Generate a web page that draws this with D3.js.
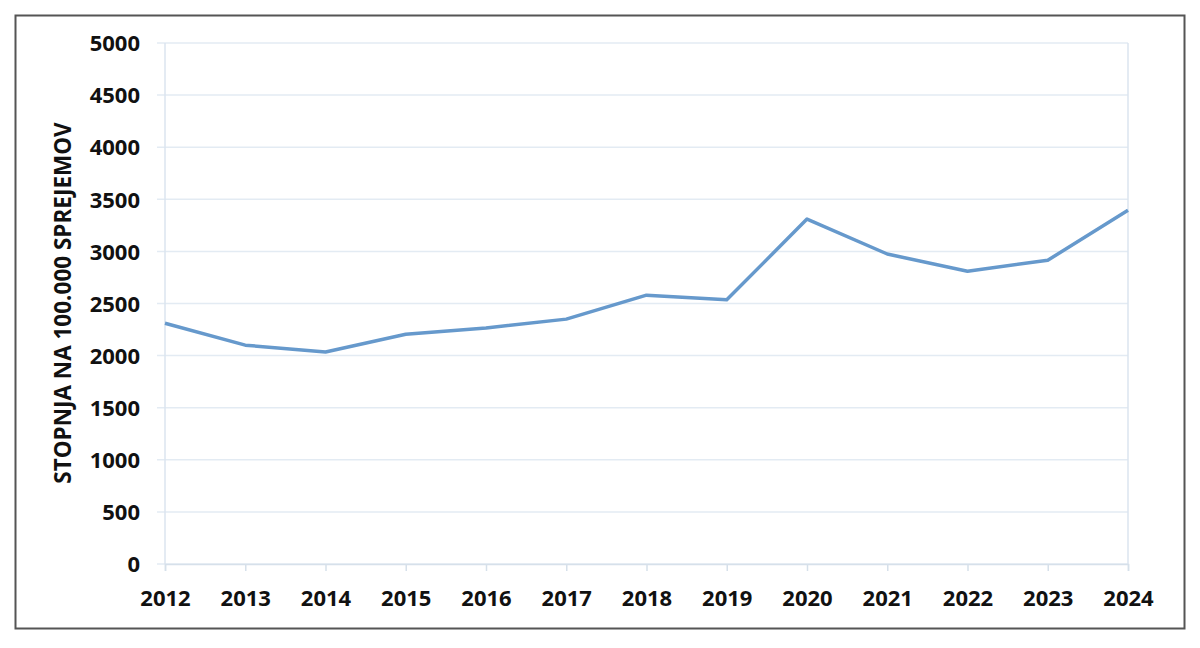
<!DOCTYPE html>
<html>
<head>
<meta charset="utf-8">
<script src="https://cdn.jsdelivr.net/npm/d3@7"></script>
<style>
  body { margin: 0; background: #fff; }
  .tick text { font-family: "Open Sans", sans-serif; font-weight: 700; fill: #111; }
</style>
</head>
<body>
<div id="chart"></div>
<script>
// Data
var years = [2012, 2013, 2014, 2015, 2016, 2017, 2018, 2019, 2020, 2021, 2022, 2023, 2024];
var rates = [2310, 2100, 2035, 2205, 2265, 2350, 2580, 2535, 3310, 2975, 2810, 2915, 3395];
var yTicks = [0, 500, 1000, 1500, 2000, 2500, 3000, 3500, 4000, 4500, 5000];

var svgWidth = 1200;
var svgHeight = 648;

var margin = { top: 43, right: 72, bottom: 84, left: 165 };
var width = svgWidth - margin.left - margin.right;
var height = svgHeight - margin.top - margin.bottom;

var svg = d3.select("#chart")
    .append("svg")
    .attr("width", svgWidth)
    .attr("height", svgHeight);

// outer frame
svg.append("rect")
    .attr("x", 15.5)
    .attr("y", 15.5)
    .attr("width", 1169)
    .attr("height", 613)
    .attr("fill", "#fff")
    .attr("stroke", "#555")
    .attr("stroke-width", 2);

var chartGroup = svg.append("g")
    .attr("transform", `translate(${margin.left}, ${margin.top})`);

var xScale = d3.scalePoint()
    .domain(years)
    .range([0, width]);

var yScale = d3.scaleLinear()
    .domain([0, 5000])
    .range([height, 0]);

// gridlines (extend slightly left of the axis)
chartGroup.append("g")
    .selectAll("line")
    .data(yTicks)
    .enter()
    .append("line")
    .attr("x1", -8)
    .attr("x2", width)
    .attr("y1", d => yScale(d))
    .attr("y2", d => yScale(d))
    .attr("stroke", "#e3ebf3")
    .attr("stroke-width", 1.5);

// left and right plot borders
chartGroup.append("line")
    .attr("x1", 0).attr("x2", 0)
    .attr("y1", 0).attr("y2", height)
    .attr("stroke", "#dbe5ef").attr("stroke-width", 1.5);
chartGroup.append("line")
    .attr("x1", width).attr("x2", width)
    .attr("y1", 0).attr("y2", height)
    .attr("stroke", "#dbe5ef").attr("stroke-width", 1.5);

// axes
var bottomAxis = d3.axisBottom(xScale).tickSize(7).tickPadding(19);
var leftAxis = d3.axisLeft(yScale)
    .tickValues(yTicks)
    .tickFormat(d3.format("d"))
    .tickSize(0)
    .tickPadding(25);

var xAxisG = chartGroup.append("g")
    .attr("transform", `translate(0, ${height})`)
    .call(bottomAxis);
xAxisG.select(".domain").attr("stroke", "#d6e0ea").attr("stroke-width", 1.5);
xAxisG.selectAll(".tick line").attr("stroke", "#d6e0ea").attr("stroke-width", 1.5);
xAxisG.selectAll(".tick text").attr("font-size", "22px");

var yAxisG = chartGroup.append("g")
    .call(leftAxis);
yAxisG.select(".domain").remove();
yAxisG.selectAll(".tick text").attr("font-size", "22px").attr("dy", "0.35em");

// line
var line = d3.line()
    .x((d, i) => xScale(years[i]))
    .y(d => yScale(d));

chartGroup.append("path")
    .datum(rates)
    .attr("fill", "none")
    .attr("stroke", "#6699cc")
    .attr("stroke-width", 3.5)
    .attr("stroke-linejoin", "round")
    .attr("d", line);

// y axis title
svg.append("text")
    .attr("transform", "translate(71, 303) rotate(-90)")
    .attr("text-anchor", "middle")
    .attr("font-family", "Open Sans, sans-serif")
    .attr("font-weight", 700)
    .attr("font-size", "22.5px")
    .attr("fill", "#111")
    .text("STOPNJA NA 100.000 SPREJEMOV");
</script>
</body>
</html>
